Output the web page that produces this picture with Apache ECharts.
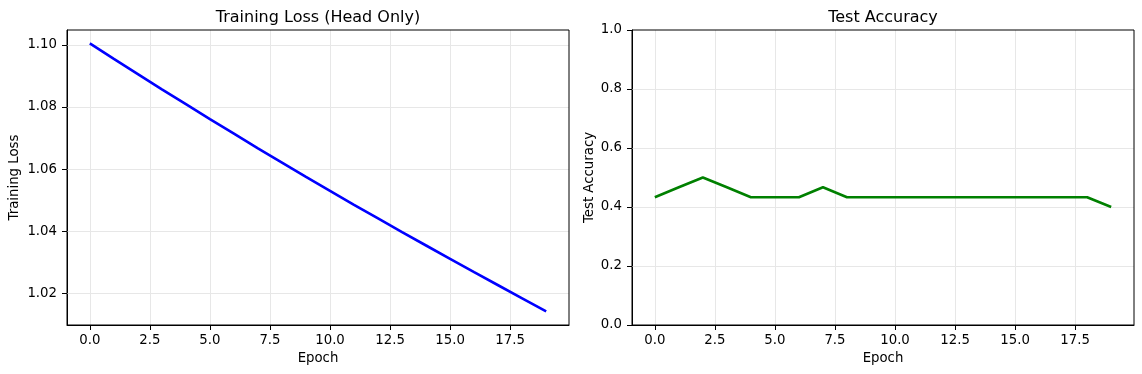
<!DOCTYPE html>
<html>
<head>
<meta charset="utf-8">
<script src="https://cdn.jsdelivr.net/npm/echarts@6/dist/echarts.min.js"></script>
<style>
html,body{margin:0;padding:0;background:#fff;}
#c{width:1142px;height:374px;}
</style>
</head>
<body>
<div id="c"></div>
<script>
const epochs = [0,1,2,3,4,5,6,7,8,9,10,11,12,13,14,15,16,17,18,19];
const trainLoss = [1.1005,1.0955,1.0906,1.0857,1.0809,1.0761,1.0714,1.0667,1.0621,1.0575,
                   1.0530,1.0485,1.0441,1.0397,1.0354,1.0311,1.0268,1.0226,1.0184,1.0142];
const testAcc = [0.4333,0.4667,0.5000,0.4667,0.4333,0.4333,0.4333,0.4667,0.4333,0.4333,
                 0.4333,0.4333,0.4333,0.4333,0.4333,0.4333,0.4333,0.4333,0.4333,0.4000];
const xTicks = [0,2.5,5,7.5,10,12.5,15,17.5];
const lossTicks = [1.02,1.04,1.06,1.08,1.10];
const accTicks = [0,0.2,0.4,0.6,0.8,1.0];
const titles = ['Training Loss (Head Only)','Test Accuracy'];
const xName = 'Epoch';
const yNames = ['Training Loss','Test Accuracy'];

const FONT = 'DejaVu Sans';
const FS = 13.3;
const gridColor = '#e7e7e7';

function xAxisDef(gi){
  return {
    type:'value', gridIndex:gi, min:-0.95, max:19.95,
    name:xName, nameLocation:'middle', nameGap:26,
    nameTextStyle:{fontFamily:FONT,fontSize:FS,color:'#000'},
    axisLine:{show:true, onZero:false, lineStyle:{color:'#000',width:1}},
    axisTick:{show:true, inside:false, customValues:xTicks, length:5, lineStyle:{color:'#000',width:1}},
    axisLabel:{customValues:xTicks, fontFamily:FONT, fontSize:FS, color:'#000', margin:9,
      formatter:v=>Number(v).toFixed(1)},
    splitLine:{show:false}
  };
}
function yAxisDef(gi, mn, mx, ticks, name, gap, dec){
  return {type:'value', gridIndex:gi, min:mn, max:mx,
     name:name, nameLocation:'middle', nameGap:gap, nameRotate:90,
     nameTextStyle:{fontFamily:FONT,fontSize:FS,color:'#000'},
     axisLine:{show:true, onZero:false, lineStyle:{color:'#000',width:1}},
     axisTick:{show:true, inside:false, customValues:ticks, length:5, lineStyle:{color:'#000',width:1}},
     axisLabel:{customValues:ticks, fontFamily:FONT, fontSize:FS, color:'#000', margin:10,
       formatter:v=>Number(v).toFixed(dec)},
     splitLine:{show:false}};
}
function gridLines(xs, ys){
  return {silent:true, z:1, symbol:['none','none'], label:{show:false}, emphasis:{disabled:true},
    lineStyle:{color:gridColor,width:1,type:'solid'},
    data:xs.map(v=>({xAxis:v})).concat(ys.map(v=>({yAxis:v})))};
}

const option = {
  animation:false,
  title:[
    {text:titles[0], left:318, top:10, padding:0, textAlign:'center',
     textStyle:{fontFamily:FONT,fontSize:16,fontWeight:'normal',color:'#000'}},
    {text:titles[1], left:883, top:10, padding:0, textAlign:'center',
     textStyle:{fontFamily:FONT,fontSize:16,fontWeight:'normal',color:'#000'}}
  ],
  grid:[
    {left:67, top:30, width:502, height:295, show:true, borderColor:'#000', borderWidth:1, backgroundColor:'transparent', z:4},
    {left:632, top:30, width:502, height:295, show:true, borderColor:'#000', borderWidth:1, backgroundColor:'transparent', z:4}
  ],
  xAxis:[xAxisDef(0), xAxisDef(1)],
  yAxis:[
    yAxisDef(0, 1.0098, 1.1048, lossTicks, yNames[0], 46, 2),
    yAxisDef(1, 0, 1, accTicks, yNames[1], 36, 1)
  ],
  series:[
    {type:'line', xAxisIndex:0, yAxisIndex:0, z:1, symbol:'none', silent:true,
     data:epochs.map((e,i)=>[e,trainLoss[i]]), lineStyle:{opacity:0},
     markLine:gridLines(xTicks, lossTicks)},
    {type:'line', xAxisIndex:1, yAxisIndex:1, z:1, symbol:'none', silent:true,
     data:epochs.map((e,i)=>[e,testAcc[i]]), lineStyle:{opacity:0},
     markLine:gridLines(xTicks, accTicks.slice(1,-1))},
    {type:'line', xAxisIndex:0, yAxisIndex:0, z:3, symbol:'none',
     data:epochs.map((e,i)=>[e,trainLoss[i]]), lineStyle:{color:'#0000ff',width:2.6}},
    {type:'line', xAxisIndex:1, yAxisIndex:1, z:3, symbol:'none',
     data:epochs.map((e,i)=>[e,testAcc[i]]), lineStyle:{color:'#008000',width:2.6}}
  ]
};
const chart = echarts.init(document.getElementById('c'), null, {renderer:'canvas'});
chart.setOption(option);
</script>
</body>
</html>
